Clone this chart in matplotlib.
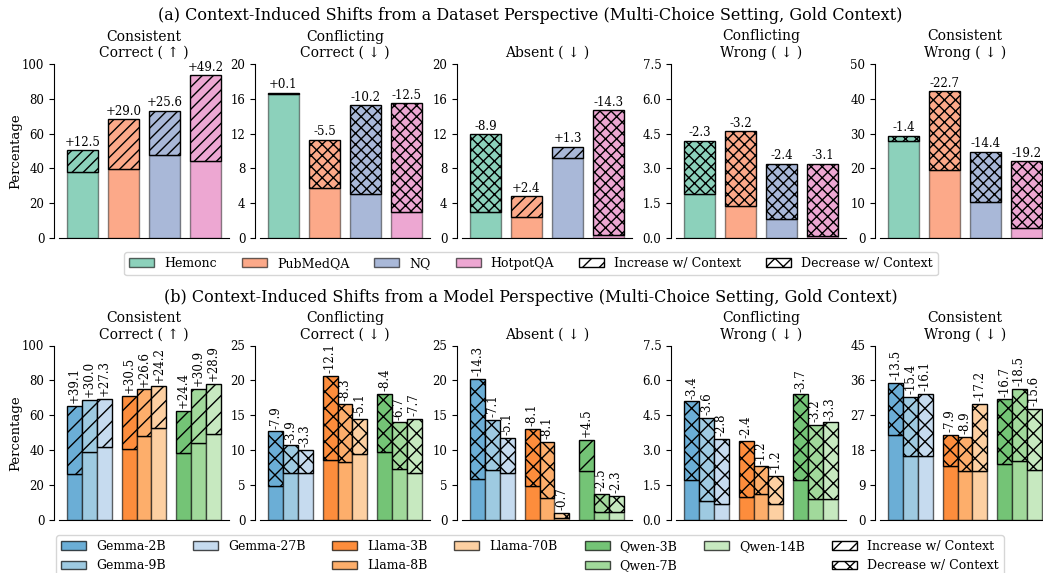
import matplotlib
matplotlib.use("Agg")
import matplotlib.pyplot as plt
from matplotlib.patches import Patch
from matplotlib.colors import to_rgba

plt.rcParams['font.family'] = ['DejaVu Serif', 'DejaVu Sans']

# ---- data ----
panel_titles = ["Consistent\nCorrect ( \u2191 )", "Conflicting\nCorrect ( \u2193 )", "Absent ( \u2193 )",
                "Conflicting\nWrong ( \u2193 )", "Consistent\nWrong ( \u2193 )"]

datasets = ["Hemonc", "PubMedQA", "NQ", "HotpotQA"]
ds_colors = ["#66c2a5", "#fc8d62", "#8da0cb", "#e78ac3"]
# value without context, and change with context
ds_before = [[37.8, 39.4, 47.5, 44.2],
             [16.6, 11.3, 15.3, 15.5],
             [11.9, 2.4, 9.2, 14.7],
             [4.2, 4.6, 3.2, 3.2],
             [29.4, 42.2, 24.8, 22.0]]
ds_delta = [[12.5, 29.0, 25.6, 49.2],
            [0.1, -5.5, -10.2, -12.5],
            [-8.9, 2.4, 1.3, -14.3],
            [-2.3, -3.2, -2.4, -3.1],
            [-1.4, -22.7, -14.4, -19.2]]
ds_ylim = [100, 20, 20, 7.5, 50]
ds_step = [20, 4, 4, 1.5, 10]

models = ["Gemma-2B", "Gemma-9B", "Gemma-27B", "Llama-3B", "Llama-8B", "Llama-70B",
          "Qwen-3B", "Qwen-7B", "Qwen-14B"]
md_colors = ["#6baed6", "#9ecae1", "#c6dbef", "#fd8d3c", "#fdae6b", "#fdd0a2",
             "#74c476", "#a1d99b", "#c7e9c0"]
md_before = [[26.5, 38.8, 42.1, 40.8, 48.3, 52.7, 38.3, 44.2, 49.3],
             [12.7, 10.7, 10.1, 20.7, 16.6, 14.5, 18.1, 14.0, 14.5],
             [20.2, 14.3, 11.8, 13.0, 11.2, 1.0, 7.0, 3.7, 3.4],
             [5.1, 4.4, 3.5, 3.4, 2.3, 1.9, 5.4, 4.1, 4.2],
             [35.4, 31.8, 32.6, 21.9, 21.5, 29.9, 31.1, 33.8, 28.6]]
md_delta = [[39.1, 30.0, 27.3, 30.5, 26.6, 24.2, 24.4, 30.9, 28.9],
            [-7.9, -3.9, -3.3, -12.1, -8.3, -5.1, -8.4, -6.7, -7.7],
            [-14.3, -7.1, -5.1, -8.1, -8.1, -0.7, 4.5, -2.5, -2.3],
            [-3.4, -3.6, -2.8, -2.4, -1.2, -1.2, -3.7, -3.2, -3.3],
            [-13.5, -15.4, -16.1, -7.9, -8.9, -17.2, -16.7, -18.5, -15.6]]
md_ylim = [100, 25, 25, 7.5, 45]
md_step = [20, 5, 5, 1.5, 9]


def draw_panel(ax, xs, width, before, delta, colors, alpha, hatches, rotate, base_edge):
    for x, b, d, c in zip(xs, before, delta, colors):
        after = b + d
        lo, hi = min(b, after), max(b, after)
        fc = to_rgba(c, alpha)
        ax.bar(x, lo, width, color=fc, edgecolor=base_edge, linewidth=1)
        ax.bar(x, hi - lo, width, bottom=lo, color=fc, edgecolor='black', linewidth=1,
               hatch=hatches[0] if d > 0 else hatches[1])
        lab = "%+.1f" % d
        if rotate:
            ax.annotate(lab, (x, hi), xytext=(0, 2), textcoords='offset points',
                        ha='center', va='bottom', rotation=90, fontsize=8.5)
        else:
            ax.annotate(lab, (x, hi), xytext=(0, 1), textcoords='offset points',
                        ha='center', va='bottom', fontsize=8.5)


def style_axis(ax, top, step, title, first):
    ax.set_ylim(0, top)
    n = int(round(top / step))
    ax.set_yticks([step * i for i in range(n + 1)])
    ax.set_xticks([])
    ax.spines['top'].set_visible(False)
    ax.spines['right'].set_visible(False)
    ax.spines['left'].set_position(('outward', 3.6))
    ax.tick_params(axis='y', labelsize=8.5)
    ax.set_title(title, fontsize=10, pad=5)
    if first:
        ax.set_ylabel("Percentage", fontsize=9.5, labelpad=0)


fig = plt.figure(figsize=(10.43, 5.73), dpi=100)
W, H = 1043.0, 573.0
lefts = [59, 260, 462, 676, 880]
aw = 170 / W

fig.text(530 / W, 1 - 16 / H, "(a) Context-Induced Shifts from a Dataset Perspective (Multi-Choice Setting, Gold Context)",
         ha='center', va='center', fontsize=11.5)
fig.text(531 / W, 1 - 297 / H, "(b) Context-Induced Shifts from a Model Perspective (Multi-Choice Setting, Gold Context)",
         ha='center', va='center', fontsize=11.5)

# top row
ds_x = list(range(len(datasets)))
for i in range(5):
    ax = fig.add_axes([lefts[i] / W, (H - 238) / H, aw, 174 / H])
    draw_panel(ax, ds_x, 0.76, ds_before[i], ds_delta[i], ds_colors, 0.75, ('///', 'xxx'), False,
               (0, 0, 0, 0.45))
    ax.set_xlim(-0.57, 3.57)
    style_axis(ax, ds_ylim[i], ds_step[i], panel_titles[i], i == 0)

# bottom row
bw = 0.275
md_x = [g + (j - 1) * bw for g in range(3) for j in range(3)]
for i in range(5):
    ax = fig.add_axes([lefts[i] / W, (H - 520) / H, aw, 174.5 / H])
    draw_panel(ax, md_x, bw, md_before[i], md_delta[i], md_colors, 1.0, ('//', 'xx'), True,
               (0, 0, 0, 0.6))
    ax.set_xlim(-0.56, 2.56)
    style_axis(ax, md_ylim[i], md_step[i], panel_titles[i], i == 0)

# legends
top_handles = [Patch(facecolor=to_rgba(c, 0.75), edgecolor=(0, 0, 0, 0.6), label=n)
               for n, c in zip(datasets, ds_colors)]
top_handles.append(Patch(facecolor='white', edgecolor='black', hatch='//', label='Increase w/ Context'))
top_handles.append(Patch(facecolor='white', edgecolor='black', hatch='xx', label='Decrease w/ Context'))
fig.legend(handles=top_handles, loc='upper center', bbox_to_anchor=(531 / W, 1 - 252 / H),
           ncol=6, fontsize=9, frameon=True, borderaxespad=0, handletextpad=0.8, columnspacing=2.0)

blank = Patch(visible=False, label=' ')
mh = [Patch(facecolor=c, edgecolor=(0, 0, 0, 0.7), label=n) for n, c in zip(models, md_colors)]
bottom_handles = [mh[0], mh[1], mh[2], blank, mh[3], mh[4], mh[5], blank, mh[6], mh[7], mh[8], blank,
                  Patch(facecolor='white', edgecolor='black', hatch='//', label='Increase w/ Context'),
                  Patch(facecolor='white', edgecolor='black', hatch='xx', label='Decrease w/ Context')]
fig.legend(handles=bottom_handles, loc='upper center', bbox_to_anchor=(530 / W, 1 - 535 / H),
           ncol=7, fontsize=9, frameon=True, borderaxespad=0, handletextpad=0.8, columnspacing=2.15,
           labelspacing=0.5)

fig.savefig("out.png", dpi=100)
